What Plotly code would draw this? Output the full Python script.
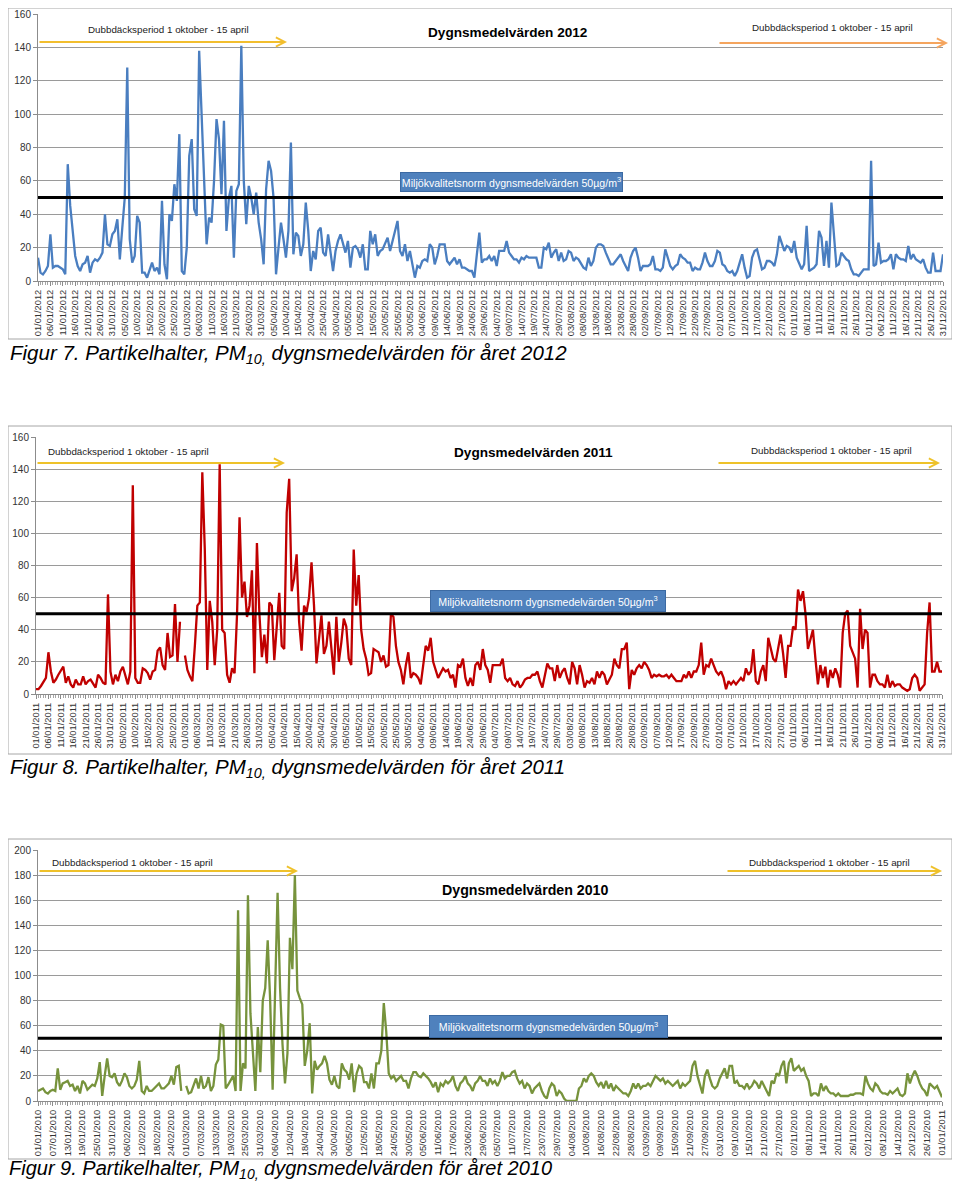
import pandas as pd
import plotly.graph_objects as go

# ---------------- data ----------------
NORM = 50  # Miljökvalitetsnorm dygnsmedelvärde, µg/m3

V2012 = [14, 5, 4, 6, 9, 28, 8, 9, 9, 8,
         7, 4, 70, 45, 30, 15, 9, 6, 10, 11,
         15, 5, 11, 13, 12, 14, 17, 40, 22, 21,
         28, 30, 37, 13, 32, 50, 128, 25, 11, 15,
         39, 35, 5, 5, 2, 6, 11, 6, 8, 4,
         48, 10, 1, 40, 36, 58, 48, 88, 6, 4,
         20, 75, 85, 43, 39, 138, 100, 65, 22, 38,
         35, 60, 97, 85, 52, 96, 30, 50, 57, 14,
         54, 58, 141, 60, 34, 57, 50, 40, 53, 35,
         25, 10, 55, 72, 66, 50, 4, 20, 35, 25,
         14, 30, 83, 16, 29, 27, 15, 22, 47, 30,
         6, 18, 13, 30, 32, 17, 15, 28, 15, 6,
         18, 24, 28, 22, 17, 24, 8, 20, 21, 19,
         14, 22, 7, 7, 30, 22, 28, 15, 18, 19,
         23, 26, 18, 24, 30, 36, 18, 15, 22, 12,
         18, 10, 2, 9, 8, 12, 13, 12, 22, 20,
         10, 15, 22, 22, 22, 12, 10, 12, 14, 10,
         13, 8, 8, 7, 6, 6, 2, 16, 29, 11,
         13, 13, 15, 12, 15, 9, 18, 18, 18, 24,
         17, 15, 13, 13, 11, 14, 13, 15, 14, 14,
         14, 14, 8, 8, 20, 19, 23, 14, 17, 19,
         12, 17, 12, 13, 18, 17, 12, 14, 13, 10,
         8, 7, 14, 9, 12, 20, 22, 22, 21, 17,
         14, 10, 10, 12, 14, 16, 12, 9, 6, 14,
         18, 20, 14, 6, 9, 9, 9, 10, 15, 7,
         7, 6, 8, 19, 14, 9, 7, 9, 10, 16,
         14, 13, 11, 11, 6, 8, 7, 7, 11, 17,
         12, 9, 9, 12, 18, 17, 10, 9, 6, 5,
         6, 3, 6, 11, 16, 8, 2, 3, 14, 18,
         19, 13, 7, 8, 12, 12, 11, 9, 16, 27,
         22, 18, 21, 20, 17, 24, 14, 11, 7, 10,
         33, 6, 7, 8, 10, 30, 26, 9, 24, 8,
         47, 26, 9, 10, 17, 15, 13, 12, 7, 4,
         4, 3, 5, 7, 7, 7, 72, 9, 10, 23,
         11, 12, 12, 13, 16, 7, 16, 14, 13, 13,
         12, 21, 13, 16, 13, 12, 11, 13, 8, 5,
         5, 17, 6, 6, 6, 16]

V2011 = [3, 3, 5, 8, 10, 26, 14, 7, 9, 12,
         15, 17, 7, 11, 6, 4, 9, 6, 6, 11,
         6, 8, 9, 6, 4, 12, 10, 7, 6, 62,
         14, 6, 12, 8, 14, 17, 12, 6, 14, 130,
         10, 7, 7, 16, 15, 13, 9, 14, 15, 27,
         29, 18, 15, 38, 23, 24, 56, 20, 45, None,
         24, 15, 11, 8, 30, 55, 57, 138, 90, 15,
         58, 45, 18, 40, 143, 40, 38, 12, 7, 16,
         13, 50, 110, 60, 70, 48, 55, 77, 13, 94,
         50, 23, 37, 19, 57, 55, 21, 40, 63, 30,
         28, 113, 134, 64, 72, 87, 45, 27, 55, 51,
         60, 82, 55, 19, 35, 49, 25, 30, 45, 30,
         12, 48, 20, 32, 47, 42, 22, 18, 90, 55,
         74, 40, 28, 22, 12, 13, 28, 27, 26, 20,
         24, 17, 18, 50, 48, 30, 20, 15, 6, 18,
         26, 10, 13, 12, 10, 6, 18, 30, 27, 35,
         20, 15, 10, 13, 16, 14, 15, 10, 12, 4,
         18, 17, 22, 10, 5, 10, 5, 18, 20, 15,
         28, 18, 15, 7, 18, 18, 18, 18, 22, 10,
         8, 10, 6, 5, 8, 4, 6, 9, 10, 10,
         12, 12, 14, 8, 4, 12, 19, 16, 16, 8,
         18, 10, 14, 16, 10, 6, 20, 16, 6, 18,
         12, 4, 8, 7, 10, 6, 14, 10, 14, 12,
         6, 9, 12, 22, 18, 16, 28, 28, 32, 3,
         15, 12, 16, 18, 16, 20, 18, 15, 10, 12,
         11, 12, 11, 11, 12, 10, 12, 10, 8, 8, 8,
         12, 10, 14, 10, 14, 14, 18, 32, 12, 18,
         17, 22, 18, 14, 12, 14, 10, 3, 8, 6,
         8, 6, 8, 10, 8, 16, 12, 14, 28, 8,
         6, 14, 18, 8, 35, 28, 22, 20, 30, 37,
         25, 10, 30, 30, 42, 40, 65, 58, 64, 50,
         28, 35, 40, 22, 6, 18, 10, 17, 4, 15,
         10, 16, 12, 4, 38, 50, 52, 30, 26, 22,
         4, 53, 28, 40, 38, 4, 12, 12, 8, 6,
         6, 4, 12, 4, 8, 5, 6, 6, 4, 3,
         2, 3, 10, 12, 10, 2, 4, 6, 38, 57,
         14, 14, 20, 14, 14]

V2010 = [8, 9, 10, 7, 6, 8, 9, 8, 26, 9,
         14, 15, 16, 12, 13, 8, 12, 6, 16, 14,
         9, 11, 13, 12, 18, 31, 4, 20, 34, 20,
         19, 22, 15, 12, 16, 22, 19, 12, 10, 12,
         17, 32, 8, 6, 12, 8, 8, 10, 12, 14,
         10, 10, 12, 14, 20, 13, 27, 28, 8, None,
         12, 6, 7, 12, 18, 10, 20, 10, 12, 19,
         8, 12, 29, 33, 61, 60, 10, 13, 16, 20,
         8, 152, 8, 30, 26, 164, 70, 40, 8, 59,
         23, 80, 90, 128, 80, 9, 88, 166, 90, 45,
         14, 38, 130, 105, 180, 88, 82, 77, 28, 40,
         62, 6, 32, 25, 28, 30, 36, 30, 17, 13,
         20, 12, 10, 30, 25, 23, 17, 30, 7, 22,
         28, 26, 15, 15, 10, 22, 10, 30, 30, 40,
         78, 55, 22, 18, 20, 16, 18, 20, 16, 16,
         10, 18, 23, 23, 20, 19, 22, 20, 18, 15,
         11, 15, 7, 14, 12, 16, 14, 16, 20, 12,
         8, 14, 16, 20, 14, 12, 8, 14, 16, 20,
         16, 16, 12, 18, 14, 16, 12, 16, 23, 18,
         20, 20, 23, 24, 18, 14, 16, 10, 14, 12,
         6, 10, 12, 14, 8, 4, 2, 10, 14, 12,
         4, 8, 6, 2, 0, 0, 0, 0, 0, 10,
         12, 18, 15, 20, 22, 20, 15, 12, 15, 10,
         16, 10, 14, 8, 12, 10, 8, 6, 6, 4,
         8, 14, 10, 14, 10, 12, 12, 14, 12, 16,
         20, 18, 16, 18, 14, 16, 14, 12, 14, 16,
         10, 14, 12, 14, 16, 28, 32, 20, 12, 6,
         20, 25, 18, 12, 10, 12, 18, 22, 26, 18,
         28, 28, 14, 16, 12, 12, 10, 14, 10, 12,
         16, 14, 10, 16, 12, 8, 4, 16, 14, 22,
         20, 28, 32, 14, 30, 34, 24, 26, 28, 24,
         26, 20, 16, 4, 6, 6, 4, 14, 8, 12,
         8, 6, 6, 4, 6, 4, 4, 4, 4, 5, 5,
         6, 6, 6, 5, 20, 14, 10, 8, 14, 12,
         8, 6, 6, 5, 8, 6, 8, 10, 5, 4,
         6, 22, 14, 20, 24, 20, 14, 10, 8, 4,
         14, 12, 10, 12, 8, 3]


def make_labels(start, end, fake_feb29=None):
    lab = pd.date_range(start, end, freq="D").strftime("%d/%m/%Y").tolist()
    if fake_feb29:
        lab.insert(59, fake_feb29)
    return lab


CATS_2012 = make_labels("2012-01-01", "2012-12-31")
CATS_2011 = make_labels("2011-01-01", "2011-12-31", "29/02/2011")
CATS_2010 = make_labels("2010-01-01", "2011-01-01", "29/02/2010")

TITLES = ["Dygnsmedelvärden 2012", "Dygnsmedelvärden 2011", "Dygnsmedelvärden 2010"]
CAPTIONS = [
    "Figur 7. Partikelhalter, PM<sub>10,</sub> dygnsmedelvärden för året 2012",
    "Figur 8. Partikelhalter, PM<sub>10,</sub> dygnsmedelvärden för året 2011",
    "Figur 9. Partikelhalter, PM<sub>10,</sub> dygnsmedelvärden för året 2010",
]
PERIOD_TEXT = "Dubbdäcksperiod 1 oktober - 15 april"
NORM_TEXT = "Miljökvalitetsnorm dygnsmedelvärden 50µg/m<sup>3</sup>"

# ---------------- layout helpers ----------------
OFF = 8                       # page margin around the figure
FW, FH = 960 - 2 * OFF, 1189 - 2 * OFF
FONT = "Liberation Sans, Arial, sans-serif"


def fx(px):
    return min(1.0, max(0.0, (px - OFF) / FW))


def fy(py):
    return min(1.0, max(0.0, 1 - (py - OFF) / FH))


panels = [
    dict(vals=V2012, cats=CATS_2012, step=5, ymax=160, color="#4A7EC0",
         plot=(38, 943, 14, 281), box=(5, 955, 4, 339), title_xy=(508, 33), tsize=13.6,
         ltext=(168, 30), larrow=(38, 287, 42), lcol="#F2BE2E",
         rtext=(832, 28), rarrow=(718, 948, 43), rcol="#F5A55E",
         nbox=(401, 622, 173, 191), cap_y=354),
    dict(vals=V2011, cats=CATS_2011, step=5, ymax=160, color="#C00000",
         plot=(36, 942, 437, 694), box=(5, 955, 426, 754), title_xy=(533, 452), tsize=13.6,
         ltext=(128, 451), larrow=(36, 285, 463), lcol="#EEC22A",
         rtext=(831, 450), rarrow=(717, 940, 463), rcol="#EEC22A",
         nbox=(431, 665, 591, 611), cap_y=768),
    dict(vals=V2010, cats=CATS_2010, step=6, ymax=200, color="#77933C",
         plot=(38, 942, 850, 1101), box=(5, 955, 839, 1159), title_xy=(525, 890), tsize=14.2,
         ltext=(132, 862), larrow=(38, 298, 871), lcol="#EFC12A",
         rtext=(829, 862), rarrow=(726, 942, 871), rcol="#EFC12A",
         nbox=(430, 667, 1016, 1037), cap_y=None),
]

fig = go.Figure()
shapes = []
annotations = []
layout_axes = {}

for i, p in enumerate(panels, start=1):
    sfx = "" if i == 1 else str(i)
    xa, ya = "x" + sfx, "y" + sfx
    n = len(p["vals"])
    xs = list(range(n))
    fig.add_trace(go.Scatter(
        x=xs, y=p["vals"], mode="lines", xaxis=xa, yaxis=ya,
        line=dict(color=p["color"], width=2.3), connectgaps=False,
        text=p["cats"][:n], hovertemplate="%{text}: %{y}<extra></extra>", showlegend=False))

    x0, x1, y0, y1 = p["plot"]
    tv = list(range(0, n, p["step"]))
    layout_axes["xaxis" + sfx] = dict(
        domain=[fx(x0), fx(x1)], anchor=ya, range=[0, n - 1], automargin=False,
        tickmode="array", tickvals=tv, ticktext=[p["cats"][k] for k in tv],
        tickangle=-90, tickfont=dict(family=FONT, size=9.3, color="#333333"),
        ticks="outside", ticklen=4, tickcolor="#8c8c8c",
        minor=dict(tickmode="linear", tick0=0, dtick=1, ticks="outside", ticklen=3,
                   tickcolor="#a6a6a6", showgrid=False),
        showgrid=False, zeroline=False, showline=True, linecolor="#8c8c8c", linewidth=1,
        fixedrange=True)
    layout_axes["yaxis" + sfx] = dict(
        domain=[fy(y1), fy(y0)], anchor=xa, range=[0, p["ymax"]], automargin=False,
        tick0=0, dtick=20, tickfont=dict(family=FONT, size=10, color="#333333"),
        ticks="outside", ticklen=4, tickcolor="#8c8c8c",
        showgrid=True, gridcolor="#9a9a9a", gridwidth=1, zeroline=False,
        showline=True, linecolor="#8c8c8c", linewidth=1, fixedrange=True)

    shapes.append(dict(type="line", xref=xa + " domain", x0=0, x1=1, yref=ya, y0=NORM, y1=NORM,
                       line=dict(color="black", width=3)))
    bx0, bx1, by0, by1 = p["box"]
    shapes.append(dict(type="rect", xref="paper", yref="paper", x0=fx(bx0), x1=fx(bx1),
                       y0=fy(by1), y1=fy(by0), line=dict(color="#a6a6a6", width=1),
                       fillcolor="rgba(0,0,0,0)", layer="below"))

    tx, ty = p["title_xy"]
    annotations.append(dict(text="<b>" + TITLES[i - 1] + "</b>", x=fx(tx), y=fy(ty), xref="paper",
                            yref="paper", showarrow=False, xanchor="center", yanchor="middle",
                            font=dict(family=FONT, size=p["tsize"], color="black")))
    for tkey, akey, ckey in (("ltext", "larrow", "lcol"), ("rtext", "rarrow", "rcol")):
        px_, py_ = p[tkey]
        annotations.append(dict(text=PERIOD_TEXT, x=fx(px_), y=fy(py_), xref="paper", yref="paper",
                                showarrow=False, xanchor="center", yanchor="middle",
                                font=dict(family=FONT, size=9.8, color="#222222")))
        a0, a1, ay_ = p[akey]
        annotations.append(dict(text="", x=fx(a1), y=fy(ay_), xref="paper", yref="paper",
                                showarrow=True, ax=-(a1 - a0), ay=0, arrowhead=5, arrowsize=0.9,
                                arrowwidth=2, arrowcolor=p[ckey], standoff=0, startstandoff=0))
    nx0, nx1, ny0, ny1 = p["nbox"]
    annotations.append(dict(text=NORM_TEXT, x=fx((nx0 + nx1) / 2), y=fy((ny0 + ny1) / 2),
                            xref="paper", yref="paper", showarrow=False, xanchor="center",
                            yanchor="middle", width=nx1 - nx0, height=ny1 - ny0, align="center",
                            valign="middle", bgcolor="#4F81BD", bordercolor="#3C6AA3",
                            borderwidth=1, borderpad=0,
                            font=dict(family=FONT, size=10.6, color="white")))
    if p["cap_y"] is not None:
        cap_pos = dict(y=fy(p["cap_y"]), yanchor="middle", font=dict(family=FONT, size=20.5,
                                                                      color="black"))
    else:
        cap_pos = dict(y=0, yanchor="bottom", yshift=-2, borderpad=0,
                       font=dict(family=FONT, size=20, color="black"))
    annotations.append(dict(text="<i>" + CAPTIONS[i - 1] + "</i>", x=fx(7), xref="paper",
                            yref="paper", showarrow=False, xanchor="left", **cap_pos))

fig.update_layout(
    width=FW, height=FH, margin=dict(l=0, r=0, t=0, b=0, autoexpand=False),
    paper_bgcolor="white", plot_bgcolor="white", showlegend=False,
    shapes=shapes, annotations=annotations, **layout_axes)

fig.write_html("out.html")
